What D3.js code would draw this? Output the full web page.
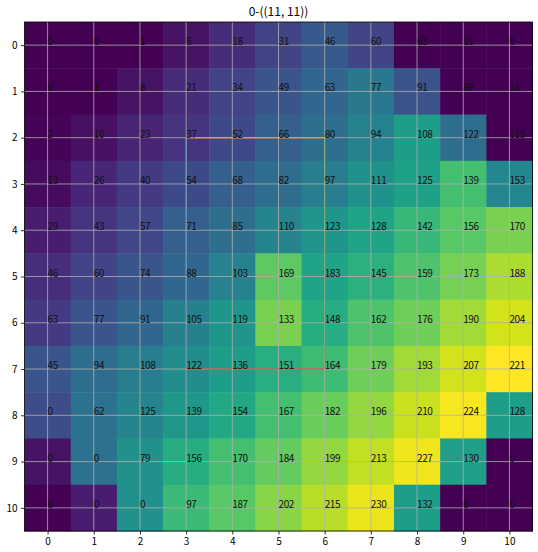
<!DOCTYPE html>
<html>
<head>
<meta charset="utf-8">
<script src="https://cdn.jsdelivr.net/npm/d3@7"></script>
<style>
  body { margin: 0; background: white; }
  text { font-family: "Noto Sans CJK SC", "DejaVu Sans", sans-serif; }
</style>
</head>
<body>
<script>
var width = 538
var height = 552
var margin = {top: 22, right: 5.5, bottom: 21, left: 24.5}

var title = "0-((11, 11))"
var rows = d3.range(11)
var cols = d3.range(11)

// colour of each cell (image values)
var cellValues = [
    [0, 0, 0, 11, 28, 46, 64, 46, 0, 0, 0],
    [0, 0, 11, 28, 46, 60, 76, 92, 58, 0, 0],
    [2, 9, 23, 35, 51, 69, 83, 101, 127, 81, 0],
    [7, 25, 39, 51, 69, 81, 97, 115, 131, 161, 106],
    [18, 35, 48, 69, 83, 104, 120, 133, 154, 170, 184],
    [30, 46, 60, 76, 101, 173, 133, 147, 166, 182, 202],
    [39, 60, 76, 99, 120, 184, 143, 166, 179, 198, 214],
    [60, 81, 97, 113, 127, 145, 159, 179, 198, 214, 230],
    [53, 87, 104, 122, 138, 161, 177, 193, 212, 228, 127],
    [11, 87, 115, 143, 161, 175, 193, 209, 225, 129, 0],
    [0, 18, 115, 156, 170, 189, 205, 223, 127, 0, 0]
]

// numbers written in the cells
var labelValues = [
    [0, 0, 1, 6, 18, 31, 46, 60, 63, 11, 0],
    [0, 1, 8, 21, 34, 49, 63, 77, 91, 89, 15],
    [2, 10, 23, 37, 52, 66, 80, 94, 108, 122, 115],
    [13, 26, 40, 54, 68, 82, 97, 111, 125, 139, 153],
    [29, 43, 57, 71, 85, 110, 123, 128, 142, 156, 170],
    [46, 60, 74, 88, 103, 169, 183, 145, 159, 173, 188],
    [63, 77, 91, 105, 119, 133, 148, 162, 176, 190, 204],
    [45, 94, 108, 122, 136, 151, 164, 179, 193, 207, 221],
    [0, 62, 125, 139, 154, 167, 182, 196, 210, 224, 128],
    [0, 0, 79, 156, 170, 184, 199, 213, 227, 130, 0],
    [0, 0, 0, 97, 187, 202, 215, 230, 132, 0, 0]
]

// box drawn over the image: [x1, y1, x2, y2, colour]
var boxLines = [
    [3, 2, 3, 7, "#1f77b4"],
    [3, 2, 6, 2, "#ff7f0e"],
    [6, 2, 6, 7, "#2ca02c"],
    [3, 7, 6, 7, "#d62728"]
]

var svg = d3.select("body").append("svg")
    .attr("width", width)
    .attr("height", height)

var plotW = width - margin.left - margin.right
var plotH = height - margin.top - margin.bottom

var x = d3.scaleLinear().domain([-0.5, 10.5]).range([0, plotW])
var y = d3.scaleLinear().domain([-0.5, 10.5]).range([0, plotH])
var color = d3.scaleSequential(d3.interpolateViridis).domain([0, 230])

var g = svg.append("g")
    .attr("transform", "translate(" + margin.left + "," + margin.top + ")")

var cells = []
rows.forEach(function (i) {
    cols.forEach(function (j) {
        cells.push({r: i, c: j, v: cellValues[i][j], t: labelValues[i][j]})
    })
})

g.selectAll(".cell")
    .data(cells)
    .enter()
    .append("rect")
    .attr("class", "cell")
    .attr("x", (d) => x(d.c - 0.5))
    .attr("y", (d) => y(d.r - 0.5))
    .attr("width", x(1) - x(0) + 0.5)
    .attr("height", y(1) - y(0) + 0.5)
    .attr("fill", (d) => color(d.v))

boxLines.forEach(function (l) {
    g.append("line")
        .attr("x1", x(l[0])).attr("y1", y(l[1]))
        .attr("x2", x(l[2])).attr("y2", y(l[3]))
        .attr("stroke", l[4])
        .attr("stroke-width", 1.5)
})

// grid
g.selectAll(".vgrid")
    .data(cols)
    .enter()
    .append("line")
    .attr("x1", (d) => x(d)).attr("x2", (d) => x(d))
    .attr("y1", 0).attr("y2", plotH)
    .attr("stroke", "#b0b0b0")
    .attr("stroke-width", 0.8)

g.selectAll(".hgrid")
    .data(rows)
    .enter()
    .append("line")
    .attr("y1", (d) => y(d)).attr("y2", (d) => y(d))
    .attr("x1", 0).attr("x2", plotW)
    .attr("stroke", "#b0b0b0")
    .attr("stroke-width", 0.8)

g.selectAll(".label")
    .data(cells)
    .enter()
    .append("text")
    .attr("x", (d) => x(d.c))
    .attr("y", (d) => y(d.r))
    .attr("font-size", "10px")
    .attr("letter-spacing", "-0.4px")
    .attr("fill", "#111")
    .text((d) => d.t)

// axes
var xAxis = g.append("g")
    .attr("transform", "translate(0," + plotH + ")")
    .call(d3.axisBottom(x).tickValues(cols).tickSize(3.5).tickPadding(3.5))
var yAxis = g.append("g")
    .call(d3.axisLeft(y).tickValues(rows).tickSize(3.5).tickPadding(3.5))

;[xAxis, yAxis].forEach(function (a) {
    a.select(".domain").remove()
    a.selectAll("text").attr("font-size", "10px").attr("fill", "#000")
        .style("font-family", '"Noto Sans CJK SC", sans-serif')
    a.selectAll("line").attr("stroke", "#000").attr("stroke-width", 0.8)
})

g.append("rect")
    .attr("width", plotW)
    .attr("height", plotH)
    .attr("fill", "none")
    .attr("stroke", "#000")
    .attr("stroke-width", 0.8)

svg.append("text")
    .attr("x", margin.left + plotW / 2)
    .attr("y", 16)
    .attr("text-anchor", "middle")
    .attr("font-size", "12px")
    .text(title)
</script>
</body>
</html>
